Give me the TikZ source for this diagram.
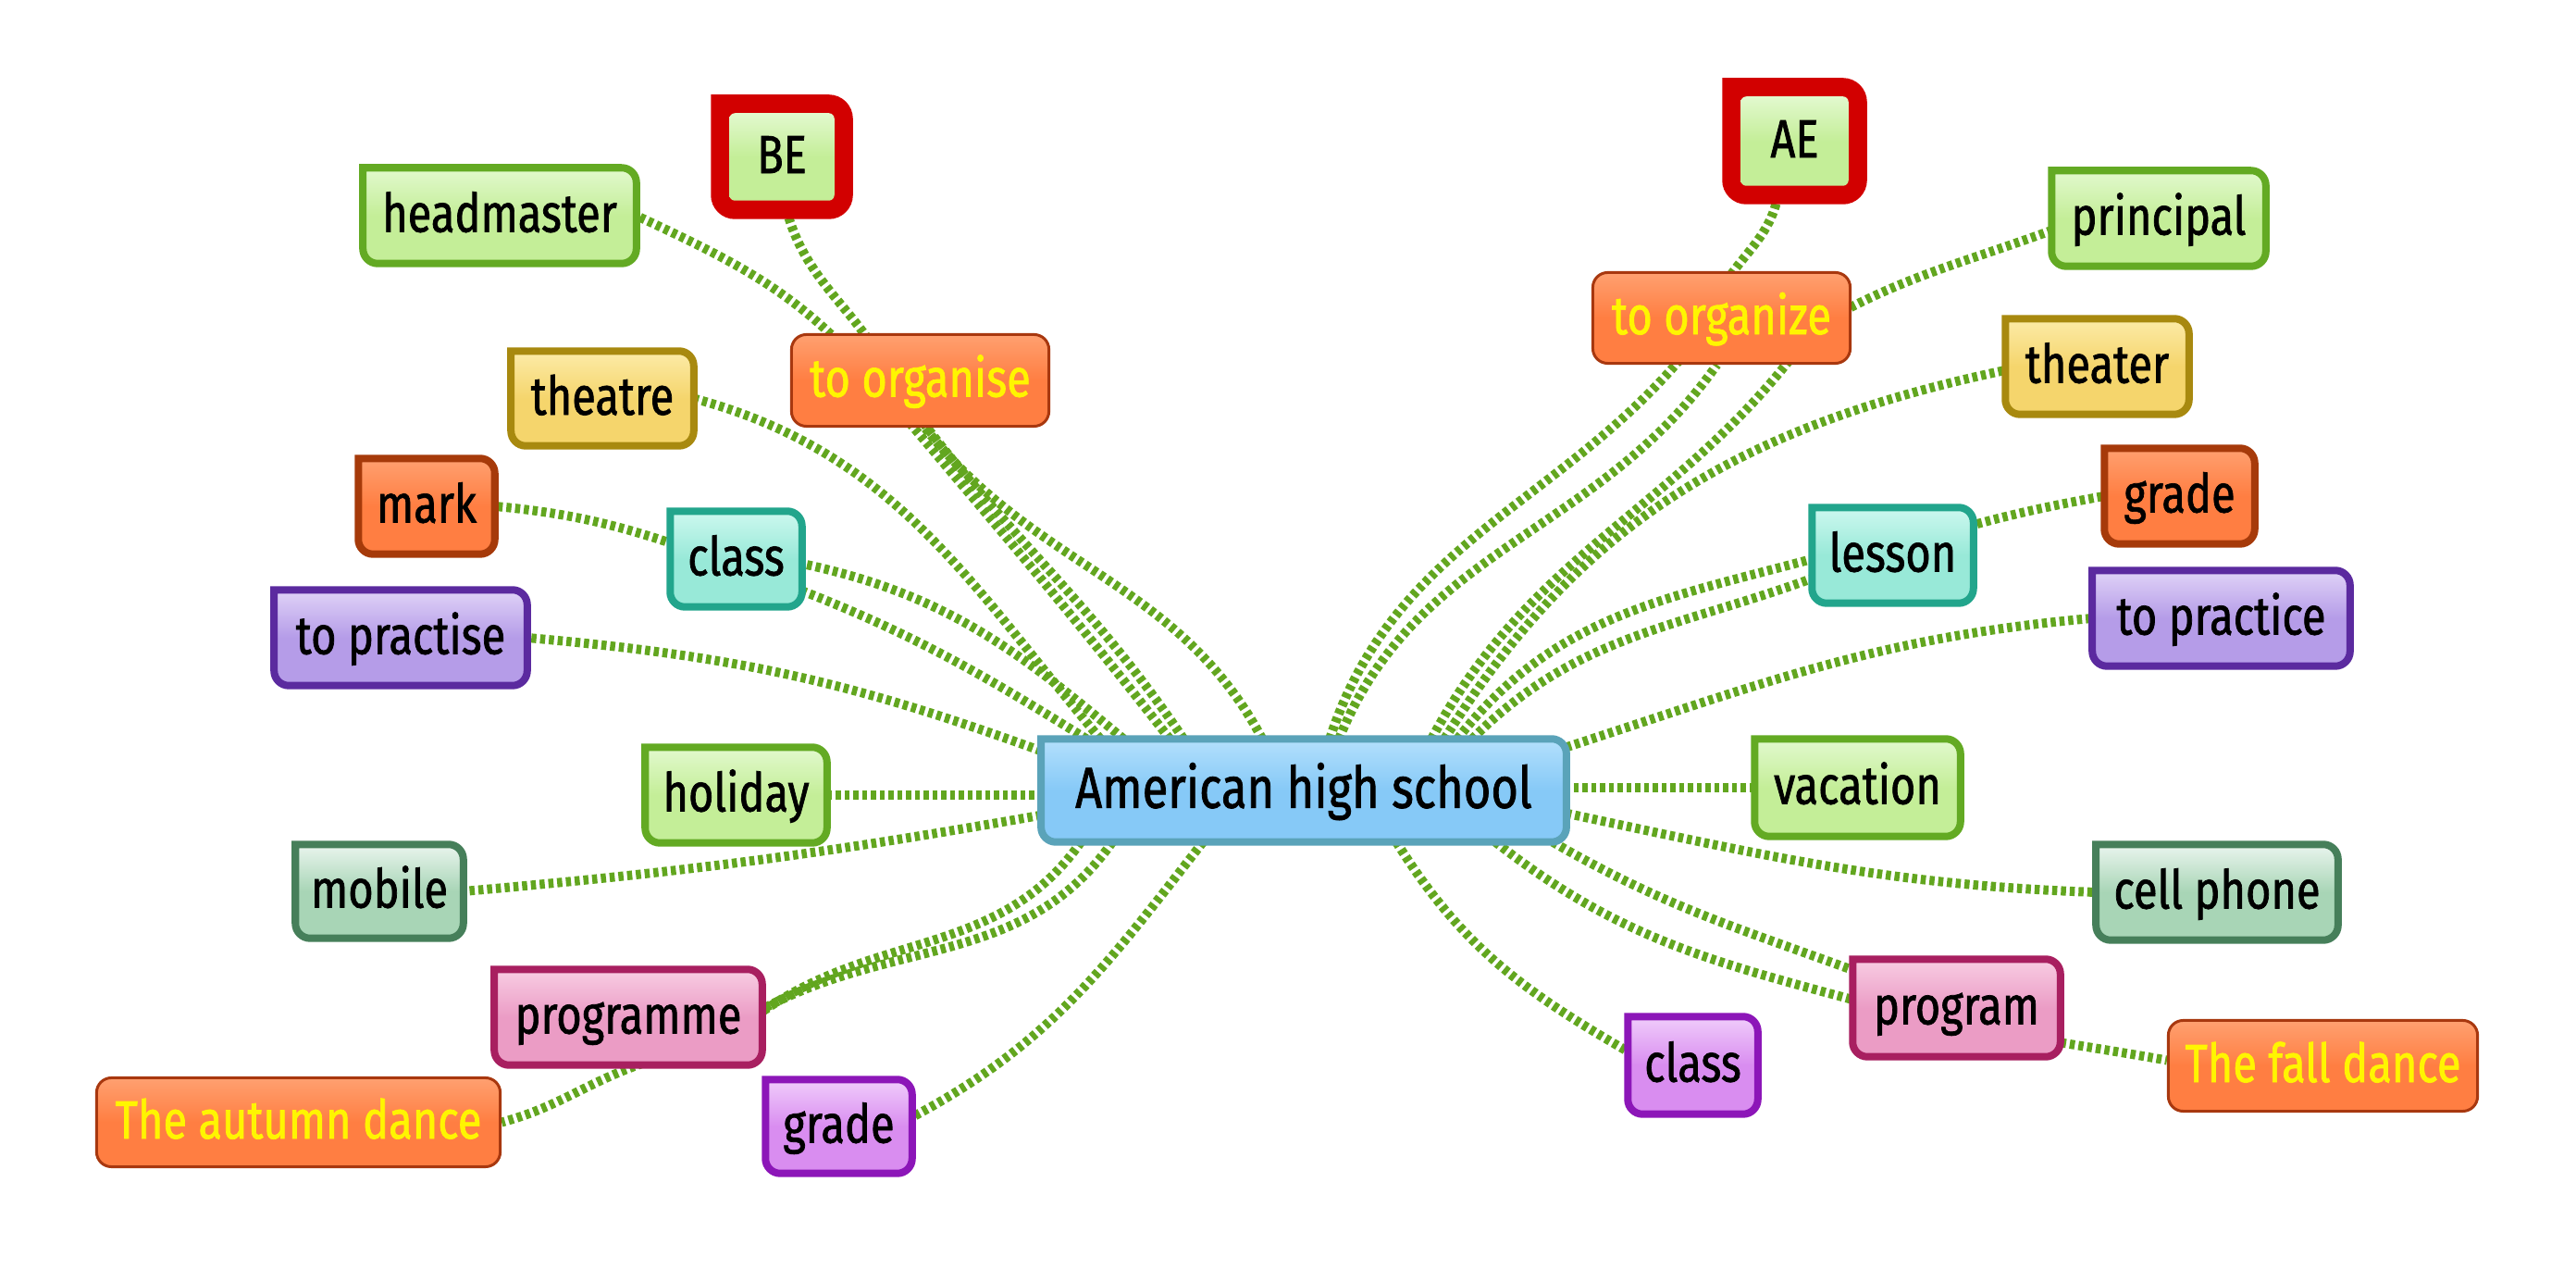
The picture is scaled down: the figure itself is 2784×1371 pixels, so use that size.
\documentclass[tikz,border=0pt]{standalone}
\usepackage{fontspec}
\setmainfont{Fira Sans}[FakeStretch=0.81, FakeBold=1.2]
\usetikzlibrary{calc}
\pgfdeclarelayer{lines}\pgfdeclarelayer{boxes}
\pgfsetlayers{lines,boxes,main}
\definecolor{lnk}{HTML}{62A61F}
\definecolor{gB}{HTML}{63AA23}\definecolor{gT}{HTML}{E2F9CE}\definecolor{gM}{HTML}{C4EE98}
\definecolor{yB}{HTML}{A8890F}\definecolor{yT}{HTML}{FCEBA8}\definecolor{yM}{HTML}{F5D56C}
\definecolor{oB}{HTML}{A63A0A}\definecolor{oT}{HTML}{FFA070}\definecolor{oM}{HTML}{FF7E42}
\definecolor{tB}{HTML}{22A58C}\definecolor{tT}{HTML}{CDF8EF}\definecolor{tM}{HTML}{98E9D8}
\definecolor{vB}{HTML}{5B2A9F}\definecolor{vT}{HTML}{E0D3F7}\definecolor{vM}{HTML}{B59CE8}
\definecolor{mB}{HTML}{467F5A}\definecolor{mT}{HTML}{EAF5EE}\definecolor{mM}{HTML}{A8D5B6}
\definecolor{pB}{HTML}{A81F60}\definecolor{pT}{HTML}{F8CDE3}\definecolor{pM}{HTML}{EB9CC5}
\definecolor{uB}{HTML}{8C16B8}\definecolor{uT}{HTML}{F0CDFB}\definecolor{uM}{HTML}{D98DF0}
\definecolor{cB}{HTML}{5AA3B9}\definecolor{cT}{HTML}{B3E0FC}\definecolor{cM}{HTML}{86C9F7}
\definecolor{rB}{HTML}{D20000}
\definecolor{ylw}{HTML}{FFF500}
\definecolor{orB}{HTML}{A8380F}
\newcommand\mmshape[2]{\draw[#2] ([xshift=-0.16cm]#1.north east) arc[start angle=90,end angle=0,radius=0.16cm] -- ([yshift=0.16cm]#1.south east) arc[start angle=0,end angle=-90,radius=0.16cm] -- ([xshift=0.16cm]#1.south west) arc[start angle=270,end angle=180,radius=0.16cm] -- (#1.north west) -- cycle;}
\tikzset{
  lbl/.style={inner sep=0pt, font=\fontsize{16.5}{19}\selectfont, text=black, text height=13.3pt, text depth=3.3pt},
  skin/.style={draw=#1B, line width=0.08cm, top color=#1T, bottom color=#1M, middle color=#1M},
  orng/.style={lbl, text=ylw, draw=orB, line width=0.03cm, rounded corners=0.16cm, top color=oT, bottom color=oM, middle color=oM},
  link/.style={draw=lnk, line width=0.1cm, dash pattern=on 0.055cm off 0.04cm},
}
\begin{document}
\begin{tikzpicture}[x=0.01cm,y=0.01cm]
\useasboundingbox (0,0) rectangle (2784,-1371);
% nodes
\node[lbl, minimum width=5.66cm, minimum height=1.10cm, font=\fontsize{17.8}{20}\selectfont, text height=14.3pt, text depth=3.6pt] (c) at (1409,-854) {American high school};
\node[lbl, minimum width=1.32cm, minimum height=1.13cm] (be) at (845,-169.5) {BE};
\node[lbl, minimum width=1.35cm, minimum height=1.15cm] (ae) at (1939.5,-152.5) {AE};
\node[lbl, minimum width=2.94cm, minimum height=1.02cm] (hm) at (540,-233) {headmaster};
\node[lbl, minimum width=1.96cm, minimum height=1.01cm] (th) at (651,-430.5) {theatre};
\node[lbl, minimum width=1.46cm, minimum height=1.02cm] (mk) at (461,-547) {mark};
\node[lbl, minimum width=1.41cm, minimum height=1.02cm] (clL) at (795.5,-604) {class};
\node[lbl, minimum width=2.72cm, minimum height=1.02cm] (tp) at (433,-689) {to practise};
\node[lbl, minimum width=1.95cm, minimum height=1.02cm] (hol) at (795.5,-859) {holiday};
\node[lbl, minimum width=1.80cm, minimum height=1.00cm] (mob) at (410,-963) {mobile};
\node[lbl, minimum width=2.88cm, minimum height=1.02cm] (prg) at (679,-1099) {programme};
\node[lbl, minimum width=1.57cm, minimum height=1.00cm] (grL) at (906.5,-1217) {grade};
\node[lbl, minimum width=2.30cm, minimum height=1.02cm] (prin) at (2333,-236) {principal};
\node[lbl, minimum width=1.97cm, minimum height=1.02cm] (th2) at (2266.5,-396) {theater};
\node[lbl, minimum width=1.61cm, minimum height=1.02cm] (grR) at (2355.5,-536) {grade};
\node[lbl, minimum width=1.73cm, minimum height=1.02cm] (les) at (2045.5,-600) {lesson};
\node[lbl, minimum width=2.77cm, minimum height=1.02cm] (tpr) at (2400.5,-668) {to practice};
\node[lbl, minimum width=2.21cm, minimum height=1.04cm] (vac) at (2007.5,-851) {vacation};
\node[lbl, minimum width=2.60cm, minimum height=1.02cm] (cp) at (2396,-964) {cell phone};
\node[lbl, minimum width=2.23cm, minimum height=1.04cm] (prog) at (2114.5,-1089) {program};
\node[lbl, minimum width=1.39cm, minimum height=1.04cm] (clR) at (1829.5,-1151) {class};
\node[orng, minimum width=2.78cm, minimum height=0.99cm] (org) at (994.5,-411) {to organise};
\node[orng, minimum width=2.78cm, minimum height=0.98cm] (torg) at (1860.5,-343.5) {to organize};
\node[orng, minimum width=4.36cm, minimum height=0.96cm] (aut) at (322.5,-1212.5) {The autumn dance};
\node[orng, minimum width=3.34cm, minimum height=0.98cm] (fd) at (2510.5,-1151.5) {The fall dance};
% boxes
\begin{pgfonlayer}{boxes}
\mmshape{c}{skin=c}
\mmshape{be}{draw=rB, fill=rB, line width=0.2cm}
\draw[rounded corners=0.06cm, top color=gT, bottom color=gM, middle color=gM, draw=none] ($(be.north west)+(10,-10)$) rectangle ($(be.south east)+(-10,10)$);
\mmshape{ae}{draw=rB, fill=rB, line width=0.2cm}
\draw[rounded corners=0.06cm, top color=gT, bottom color=gM, middle color=gM, draw=none] ($(ae.north west)+(10,-10)$) rectangle ($(ae.south east)+(-10,10)$);
\mmshape{hm}{skin=g}
\mmshape{th}{skin=y}
\mmshape{mk}{skin=o}
\mmshape{clL}{skin=t}
\mmshape{tp}{skin=v}
\mmshape{hol}{skin=g}
\mmshape{mob}{skin=m}
\mmshape{prg}{skin=p}
\mmshape{grL}{skin=u}
\mmshape{prin}{skin=g}
\mmshape{th2}{skin=y}
\mmshape{grR}{skin=o}
\mmshape{les}{skin=t}
\mmshape{tpr}{skin=v}
\mmshape{vac}{skin=g}
\mmshape{cp}{skin=m}
\mmshape{prog}{skin=p}
\mmshape{clR}{skin=u}
\end{pgfonlayer}
% connectors
\begin{pgfonlayer}{lines}
\draw[link] ($(c.north west)+(64,0)$) to[out=130,in=-15] (th.east);
\draw[link] ($(c.north west)+(89,0)$) to[out=140,in=-12] ($(clL.east)+(0,-5)$);
\draw[link] ($(c.north west)+(49,0)$) to[out=148,in=-20] ($(clL.center)+(20,-15)$) to[out=160,in=-5] (mk.east);
\draw[link] ($(c.north west)+(139,0)$) to[out=128,in=-50] ($(org.center)+(-50,0)$) to[out=130,in=-25] (hm.east);
\draw[link] ($(c.north west)+(154,0)$) to[out=124,in=-55] ($(org.center)+(-30,0)$) to[out=115,in=-75] ($(be.south)+(5,0)$);
\draw[link] ($(c.north west)+(239,0)$) to[out=118,in=-52] ($(org.south)+(5,0)$);
\draw[link] ($(c.north west)+(0,-13)$) to[out=160,in=-5] (tp.east);
\draw[link] (hol.east) -- (hol.east -| c.west);
\draw[link] ($(c.south west)+(0,29)$) to[out=190,in=5] (mob.east);
\draw[link] ($(c.south west)+(43,0)$) to[out=235,in=35] ($(prg.east)+(0,6)$);
\draw[link] ($(c.south west)+(77,0)$) to[out=235,in=30] ($(prg.east)+(-10,3)$) to[out=210,in=20] ($(prg.south)+(10,0)$) to[out=200,in=15] (aut.east);
\draw[link] ($(c.south west)+(175,0)$) to[out=232,in=28] ($(grL.east)+(0,10)$);
\draw[link] ($(c.north west)+(312,0)$) to[out=72,in=235] ($(torg.center)+(-10,0)$) to[out=80,in=-100] ($(ae.south)+(-18,0)$);
\draw[link] ($(c.north west)+(322,0)$) to[out=68,in=235] ($(torg.south)+(-5,0)$);
\draw[link] ($(c.north west)+(422,0)$) to[out=62,in=235] ($(torg.center)+(100,-10)$) to[out=30,in=200] ($(prin.west)+(0,-13)$);
\draw[link] ($(c.north west)+(436,0)$) to[out=58,in=192] ($(th2.west)+(0,-4)$);
\draw[link] ($(c.north west)+(450,0)$) to[out=52,in=195] ($(les.west)+(0,-4)$);
\draw[link] ($(c.north west)+(466,0)$) to[out=45,in=200] ($(les.west)+(0,-25)$) to[out=20,in=190] (grR.west);
\draw[link] ($(c.north east)+(0,-9)$) to[out=18,in=185] (tpr.west);
\draw[link] (vac.west) -- (vac.west -| c.east);
\draw[link] ($(c.south east)+(0,31)$) to[out=-12,in=178] (cp.west);
\draw[link] ($(c.south west)+(553,0)$) to[out=-30,in=160] ($(prog.west)+(0,41)$);
\draw[link] ($(c.south west)+(491,0)$) to[out=-38,in=165] ($(prog.west)+(0,9)$) to[out=-15,in=170] ($(fd.west)+(0,6)$);
\draw[link] ($(c.south west)+(384,0)$) to[out=-58,in=150] ($(clR.west)+(0,15)$);
\end{pgfonlayer}
\end{tikzpicture}
\end{document}
